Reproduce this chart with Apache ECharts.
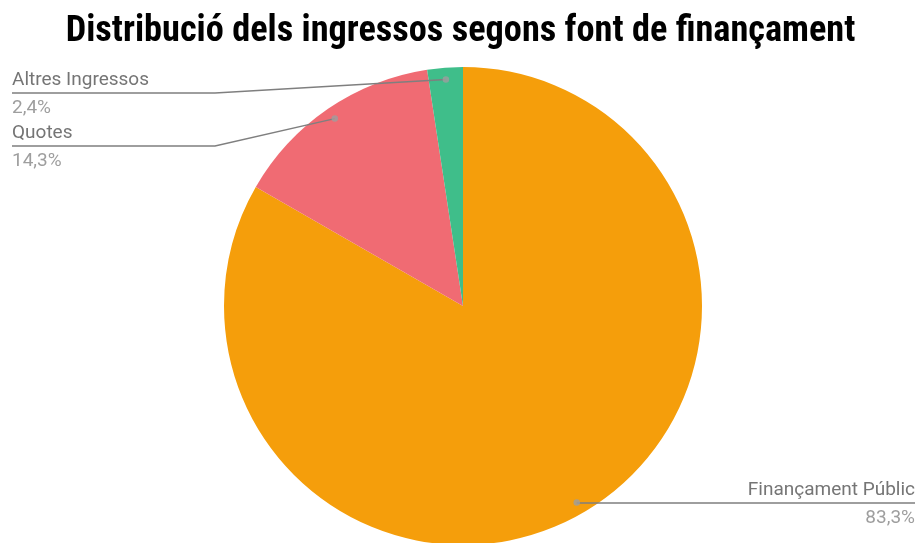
<!DOCTYPE html>
<html>
<head>
<meta charset="utf-8">
<script src="https://cdn.jsdelivr.net/npm/echarts@6/dist/echarts.min.js"></script>
<style>html,body{margin:0;padding:0;background:#fff}#c{width:921px;height:543px}</style>
</head>
<body>
<div id="c"></div>
<script>
const categories = ['Finançament Públic', 'Quotes', 'Altres Ingressos'];
const values = [83.3, 14.3, 2.4];
const colors = ['#F59E0B', '#F06B73', '#3FBE8A'];

const fmt = v => v.toFixed(1).replace('.', ',') + '%';
const data = categories.map((c, i) => ({ name: c, value: values[i], itemStyle: { color: colors[i] } }));
const total = values.reduce((a, b) => a + b, 0);
let acc = 0;
const dots = values.map(v => { const m = acc + v / 2; acc += v; return [0.95, m / total * 100]; });

// label row positions (layout)
const lineRows = { 'Finançament Públic': 503, 'Quotes': 146, 'Altres Ingressos': 93 };

const CX = 463, CY = 306, R = 239, W = 921;
const chart = echarts.init(document.getElementById('c'));
chart.setOption({
  animation: false,
  title: {
    text: 'Distribució dels ingressos segons font de finançament',
    left: 'center', top: 9,
    textStyle: { fontFamily: 'Roboto Condensed, Liberation Sans Narrow, Roboto', fontWeight: 'bold', fontSize: 36.3, color: '#000' }
  },
  polar: { center: [CX, CY], radius: R },
  angleAxis: { type: 'value', min: 0, max: 100, startAngle: 90, clockwise: true, show: false },
  radiusAxis: { type: 'value', min: 0, max: 1, show: false },
  series: [
    {
      type: 'pie', center: [CX, CY], radius: R, startAngle: 90, clockwise: true, z: 1,
      data: data, label: { show: false }, labelLine: { show: false }, silent: true
    },
    {
      type: 'pie', center: [CX, CY], radius: R * 0.95, startAngle: 90, clockwise: true, z: 5,
      data: data.map(d => ({ name: d.name, value: d.value })),
      itemStyle: { color: 'rgba(0,0,0,0)' },
      silent: true,
      label: {
        show: true,
        formatter: p => '{a|' + p.name + '}\n{b|' + fmt(p.value) + '}',
        rich: {
          a: { fontFamily: 'Roboto', fontSize: 19, color: '#757575', lineHeight: 28 },
          b: { fontFamily: 'Roboto', fontSize: 19, color: '#9E9E9E', lineHeight: 28 }
        }
      },
      labelLine: { show: true, length: 10, length2: 10, smooth: false, lineStyle: { color: '#7f7f7f', width: 1.5 } },
      labelLayout: function (p) {
        const name = categories[p.dataIndex];
        const y = lineRows[name];
        const s = p.labelLinePoints ? p.labelLinePoints[0] : [0, 0];
        const right = s[0] > CX;
        if (right) {
          return { x: W - 6, y: y + 1, align: 'right', verticalAlign: 'middle',
            labelLinePoints: [[s[0], s[1]], [s[0] + 1, y], [W - 6, y]] };
        }
        return { x: 12, y: y + 1.5, align: 'left', verticalAlign: 'middle',
          labelLinePoints: [[s[0], s[1]], [215, y], [12, y]] };
      }
    },
    {
      type: 'scatter', coordinateSystem: 'polar', z: 6, silent: true,
      data: dots, symbolSize: 6.5, itemStyle: { color: '#9E9E9E' }
    }
  ]
});
</script>
</body>
</html>
